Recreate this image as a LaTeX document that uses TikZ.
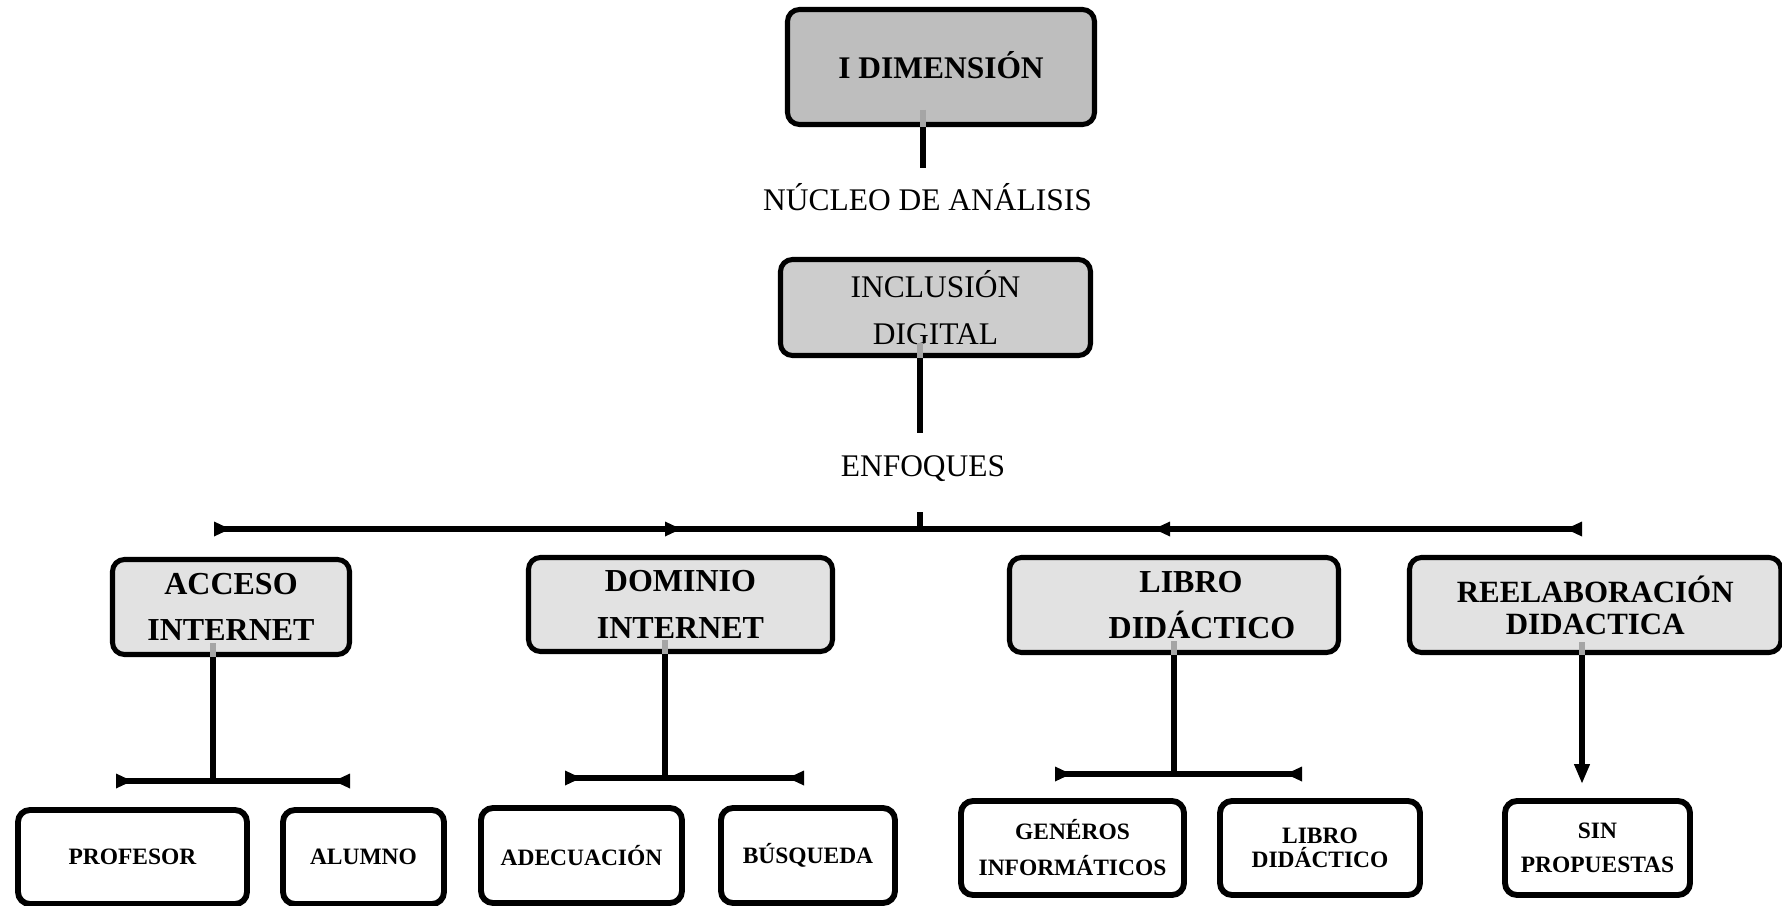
\documentclass[tikz,border=0pt]{standalone}
\usepackage{fontspec}
\setmainfont{Liberation Serif}
\usetikzlibrary{arrows.meta}
\definecolor{gTop}{RGB}{190,190,190}
\definecolor{gIncl}{RGB}{205,205,205}
\definecolor{gMid}{RGB}{226,226,226}
\definecolor{gStub}{RGB}{165,165,165}
\definecolor{gShadow}{RGB}{215,215,215}
\newcommand\wedgeR[1]{\fill (#1) ++(0,-7.5) -- ++(16,7.5) -- ++(-16,7.5) -- cycle;}
\newcommand\wedgeL[1]{\fill (#1) ++(0,-7.5) -- ++(-16,7.5) -- ++(16,7.5) -- cycle;}
\begin{document}
\begin{tikzpicture}[x=0.75pt,y=-0.75pt,
  conn/.style={line width=4.3pt},
  shadowline/.style={line width=3pt, draw=gShadow, yshift=-3.75pt},
  stub/.style={line width=4.3pt, draw=gStub},
  box/.style={draw, line width=3.8pt, rounded corners=9pt, align=center, inner sep=0pt},
  topbox/.style={box, fill=gTop, font=\fontsize{23.6}{30}\selectfont\bfseries},
  inclbox/.style={box, fill=gIncl, font=\fontsize{23.6}{34}\selectfont},
  midbox/.style={box, fill=gMid, font=\fontsize{24}{35}\selectfont\bfseries},
  lowbox/.style={box, fill=white, line width=4.4pt, font=\fontsize{17.6}{27}\selectfont\bfseries},
  plain/.style={inner sep=0pt, anchor=base, font=\fontsize{23.6}{28}\selectfont}]
\useasboundingbox (0,0) rectangle (1782,906);

% top level
\node[topbox, minimum width=230.25pt, minimum height=86.25pt] (dim) at (941,67) {\raisebox{2.25pt}{I DIMENSIÓN}};
\node[plain] (nucleo) at (927.5,210) {NÚCLEO DE ANÁLISIS};
\node[inclbox, minimum width=232.5pt, minimum height=72pt] (incl) at (935.5,307.5) {\raisebox{1.5pt}{INCLUSIÓN}\\DIGITAL};
\node[plain] (enf) at (923,476) {ENFOQUES};

% second level
\node[midbox, minimum width=177.75pt, minimum height=71.25pt] (acc) at (231,607) {ACCESO\\INTERNET};
\node[midbox, minimum width=228pt, minimum height=70.5pt] (dom) at (680.5,604.5) {DOMINIO\\INTERNET};
\node[midbox, minimum width=246.75pt, minimum height=71.25pt] (lib) at (1174,605) {\hspace*{25.5pt}LIBRO\\\hspace*{42pt}DIDÁCTICO};
\node[midbox, minimum width=278.6pt, minimum height=71.25pt, font=\fontsize{23.2}{24}\selectfont\bfseries] (reel) at (1595.25,605) {REELABORACIÓN\\DIDACTICA};

% third level
\node[lowbox, minimum width=171.75pt, minimum height=70.5pt] (prof) at (132.5,857) {PROFESOR};
\node[lowbox, minimum width=120.75pt, minimum height=70.5pt] (alum) at (363.5,857) {ALUMNO};
\node[lowbox, minimum width=150.75pt, minimum height=71.25pt] (adec) at (581.5,855.5) {ADECUACIÓN};
\node[lowbox, minimum width=130.5pt, minimum height=71.25pt] (busq) at (808,855.5) {BÚSQUEDA};
\node[lowbox, minimum width=167.25pt, minimum height=70.5pt] (gen) at (1072.5,848) {GENÉROS\\INFORMÁTICOS};
\node[lowbox, minimum width=150pt, minimum height=70.5pt, font=\fontsize{17.6}{17.5}\selectfont\bfseries] (lib2) at (1320,848) {LIBRO\\DIDÁCTICO};
\node[lowbox, minimum width=138.75pt, minimum height=70.5pt, font=\fontsize{17.6}{25.5}\selectfont\bfseries] (sin) at (1597.5,848) {SIN\\PROPUESTAS};

% junction coordinates
\coordinate (dimj) at (923,168);
\coordinate (inclj) at (920,433);
\coordinate (enfj) at (920,512);
\coordinate (bC) at (920,529);
\coordinate (bL) at (214,529);
\coordinate (bA) at (665,529);
\coordinate (bB) at (1170,529);
\coordinate (bR) at (1582,529);
\coordinate (accj) at (213,781);
\coordinate (accL) at (116,781);
\coordinate (accR) at (350,781);
\coordinate (domj) at (665,778);
\coordinate (domL) at (565,778);
\coordinate (domR) at (804,778);
\coordinate (libj) at (1174,774);
\coordinate (libL) at (1055,774);
\coordinate (libR) at (1302,774);
\coordinate (reelj) at (1582,784);

% gray stubs inside boxes
\draw[stub] (dimj |- 0,110) -- (dimj |- dim.south);
\draw[stub] (inclj |- 0,343) -- (inclj |- incl.south);
\draw[stub] (accj |- 0,643) -- (accj |- acc.south);
\draw[stub] (domj |- 0,640) -- (domj |- dom.south);
\draw[stub] (libj |- 0,641) -- (libj |- lib.south);
\draw[stub] (reelj |- 0,642) -- (reelj |- reel.south);

% shadows under horizontal bars
\draw[shadowline] (bL) -- (bR);
\draw[shadowline] (accL) -- (accR);
\draw[shadowline] (domL) -- (domR);
\draw[shadowline] (libL) -- (libR);

% connectors
\draw[conn] (dimj |- dim.south) -- (dimj);
\draw[conn] (inclj |- incl.south) -- (inclj);
\draw[conn] (enfj) -- (bC);
\draw[conn] (bL) -- (bR);
\wedgeR{bL} \wedgeR{bA} \wedgeL{bB} \wedgeL{bR}

\draw[conn] (accj |- acc.south) -- (accj);
\draw[conn] (accL) -- (accR);
\wedgeR{accL} \wedgeL{accR}

\draw[conn] (domj |- dom.south) -- (domj);
\draw[conn] (domL) -- (domR);
\wedgeR{domL} \wedgeL{domR}

\draw[conn] (libj |- lib.south) -- (libj);
\draw[conn] (libL) -- (libR);
\wedgeR{libL} \wedgeL{libR}

\draw[conn, -{Triangle[length=15pt,width=11pt]}] (reelj |- reel.south) -- (reelj);
\end{tikzpicture}
\end{document}
